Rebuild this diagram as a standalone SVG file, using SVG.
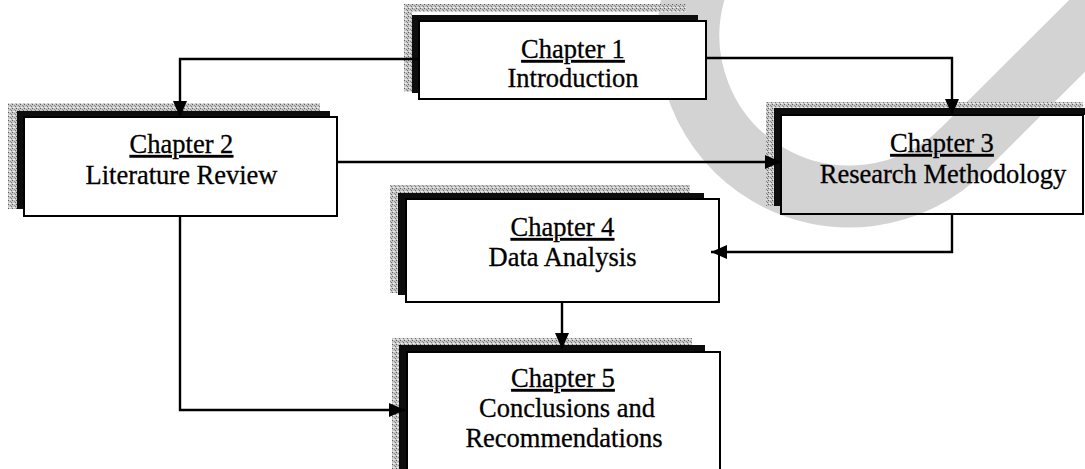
<svg xmlns="http://www.w3.org/2000/svg" width="1085" height="469" viewBox="0 0 1085 469">
  <defs>
    <style>
      .box { fill: #fff; stroke: #000; stroke-width: 2; }
      .box-clear { fill: none; stroke: #000; stroke-width: 2; }
      .shade { fill: #0d0d0d; }
      .halo { fill: url(#grain); }
      .label { font-family: "Liberation Serif", "Times New Roman", serif; font-size: 26.5px; fill: #000; stroke: #000; stroke-width: 0.3; text-anchor: middle; }
      .title { text-decoration: underline; }
      .wire { fill: none; stroke: #000; stroke-width: 2.4; }
    </style>
    <pattern id="grain" width="4" height="4" patternUnits="userSpaceOnUse">
      <rect width="4" height="4" fill="#c6c6c6"/>
      <rect x="0" y="0" width="1" height="1" fill="#5e5e5e"/>
      <rect x="2" y="1" width="1" height="1" fill="#8c8c8c"/>
      <rect x="1" y="3" width="1" height="1" fill="#f2f2f2"/>
      <rect x="3" y="2" width="1" height="1" fill="#777"/>
      <rect x="2" y="3" width="1" height="1" fill="#e6e6e6"/>
    </pattern>
    <marker id="arrow" viewBox="0 0 16 14" refX="16" refY="7" markerWidth="16" markerHeight="14" markerUnits="userSpaceOnUse" orient="auto">
      <path d="M0,0 L16,7 L0,14 Z" fill="#000"/>
    </marker>
  </defs>

  <rect width="1085" height="469" fill="#fff"/>

  <!-- light grey swoosh mark across the upper right -->
  <path d="M695,-10 A161,161 0 0 0 963.8,148.8 L1130,-17" fill="none" stroke="#d3d3d3" stroke-width="62"/>

  <!-- Chapter 1 -->
  <g id="chapter1">
    <rect class="halo" x="404" y="4" width="282" height="8"/>
    <rect class="halo" x="404" y="4" width="8" height="88"/>
    <rect class="shade" x="412" y="15" width="286" height="6"/>
    <rect class="shade" x="412" y="15" width="7" height="78"/>
    <rect class="box" x="419" y="21" width="287" height="78"/>
    <text class="label" x="573" y="58"><tspan class="title">Chapter 1</tspan></text>
    <text class="label" x="573" y="87">Introduction</text>
  </g>

  <!-- Chapter 2 -->
  <g id="chapter2">
    <rect class="halo" x="8" y="103" width="312" height="8"/>
    <rect class="halo" x="8" y="103" width="10" height="106"/>
    <rect class="shade" x="17" y="111" width="313" height="6"/>
    <rect class="shade" x="17" y="111" width="7" height="98"/>
    <rect class="box" x="24" y="117" width="313" height="99"/>
    <text class="label" x="181.5" y="153"><tspan class="title">Chapter 2</tspan></text>
    <text class="label" x="181.5" y="184">Literature Review</text>
  </g>

  <!-- Chapter 3 (transparent face, the swoosh shows through) -->
  <g id="chapter3">
    <rect class="halo" x="766" y="102" width="317" height="6"/>
    <rect class="halo" x="766" y="102" width="8" height="104"/>
    <rect class="shade" x="774" y="108" width="311" height="7"/>
    <rect class="shade" x="774" y="108" width="7" height="98"/>
    <rect class="box-clear" x="781" y="115" width="302" height="99"/>
    <text class="label" x="942" y="152"><tspan class="title">Chapter 3</tspan></text>
    <text class="label" x="943" y="183">Research Methodology</text>
  </g>

  <!-- Chapter 4 -->
  <g id="chapter4">
    <rect class="halo" x="390" y="185" width="300" height="8"/>
    <rect class="halo" x="390" y="185" width="8" height="108"/>
    <rect class="shade" x="398" y="193" width="306" height="6"/>
    <rect class="shade" x="398" y="193" width="8" height="102"/>
    <rect class="box" x="406" y="199" width="313" height="103"/>
    <text class="label" x="562.5" y="236"><tspan class="title">Chapter 4</tspan></text>
    <text class="label" x="562.5" y="266">Data Analysis</text>
  </g>

  <!-- Chapter 5 -->
  <g id="chapter5">
    <rect class="halo" x="392" y="338" width="300" height="7"/>
    <rect class="halo" x="392" y="338" width="7" height="131"/>
    <rect class="shade" x="399" y="345" width="306" height="7"/>
    <rect class="shade" x="399" y="345" width="8" height="124"/>
    <rect class="box" x="407" y="352" width="313" height="130"/>
    <text class="label" x="563" y="387"><tspan class="title">Chapter 5</tspan></text>
    <text class="label" x="567" y="417">Conclusions and</text>
    <text class="label" x="564" y="447">Recommendations</text>
  </g>

  <!-- connectors -->
  <g id="connectors">
    <path class="wire" d="M419,59 H180 V117" marker-end="url(#arrow)"/>
    <path class="wire" d="M706,58 H952 V115" marker-end="url(#arrow)"/>
    <path class="wire" d="M337,162 H781" marker-end="url(#arrow)"/>
    <path class="wire" d="M952,214 V252 H711" marker-end="url(#arrow)"/>
    <path class="wire" d="M562,302 V349" marker-end="url(#arrow)"/>
    <path class="wire" d="M180,216 V410 H405" marker-end="url(#arrow)"/>
  </g>
</svg>
